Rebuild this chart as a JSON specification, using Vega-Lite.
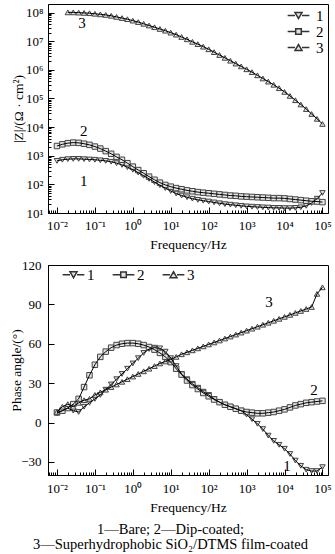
{
  "$schema": "https://vega.github.io/schema/vega-lite/v6.json",
  "background": "white",
  "padding": {"left": 9, "top": 3, "right": 5, "bottom": 0},
  "config": {
    "font": "Liberation Serif, Times New Roman, serif",
    "view": {"stroke": "black", "strokeWidth": 1},
    "style": {"guide-label": {"font": "Liberation Serif, Times New Roman, serif"}, "guide-title": {"font": "Liberation Serif, Times New Roman, serif", "fontWeight": "normal"}},
    "axis": {"grid": false, "domainColor": "black", "tickColor": "black", "labelColor": "black", "titleColor": "black", "labelFont": "Liberation Serif, Times New Roman, serif", "titleFont": "Liberation Serif, Times New Roman, serif", "labelFontSize": 13, "titleFontSize": 13.5, "titleFontWeight": "normal", "labelOverlap": false, "labelFlush": false, "tickWidth": 1},
    "legend": {"labelFont": "Liberation Serif, Times New Roman, serif", "labelFontSize": 15, "labelColor": "black"}
  },
  "datasets": {
    "eis": [
      {"s":"1","f":0.01,"z":661,"p":7},{"s":"1","f":0.013895,"z":724,"p":9},{"s":"1","f":0.019307,"z":759,"p":11},{"s":"1","f":0.026827,"z":776,"p":9},{"s":"1","f":0.037276,"z":776,"p":8},{"s":"1","f":0.051795,"z":759,"p":12},{"s":"1","f":0.07197,"z":741,"p":15},{"s":"1","f":0.1,"z":724,"p":18},{"s":"1","f":0.13895,"z":692,"p":21},{"s":"1","f":0.19307,"z":661,"p":25},{"s":"1","f":0.26827,"z":617,"p":29},{"s":"1","f":0.37276,"z":550,"p":33},{"s":"1","f":0.51795,"z":479,"p":37},{"s":"1","f":0.7197,"z":398,"p":41},{"s":"1","f":1,"z":324,"p":45},{"s":"1","f":1.3895,"z":257,"p":49},{"s":"1","f":1.9307,"z":200,"p":53},{"s":"1","f":2.6827,"z":155,"p":56},{"s":"1","f":3.7276,"z":120,"p":57},{"s":"1","f":5.1795,"z":93.3,"p":56.5},{"s":"1","f":7.197,"z":74.1,"p":54},{"s":"1","f":10,"z":58.9,"p":49},{"s":"1","f":13.895,"z":47.9,"p":43},{"s":"1","f":19.307,"z":40.7,"p":37},{"s":"1","f":26.827,"z":35.5,"p":33},{"s":"1","f":37.276,"z":31.6,"p":29.5},{"s":"1","f":51.795,"z":28.8,"p":26.5},{"s":"1","f":71.97,"z":26.9,"p":23.5},{"s":"1","f":100,"z":25.1,"p":21},{"s":"1","f":138.95,"z":23.4,"p":18},{"s":"1","f":193.07,"z":21.9,"p":15.5},{"s":"1","f":268.27,"z":20.4,"p":13.5},{"s":"1","f":372.76,"z":19.5,"p":12},{"s":"1","f":517.95,"z":18.6,"p":10.5},{"s":"1","f":719.7,"z":17.8,"p":9},{"s":"1","f":1000,"z":17.0,"p":6},{"s":"1","f":1389.5,"z":16.6,"p":2.5},{"s":"1","f":1930.7,"z":16.2,"p":-1},{"s":"1","f":2682.7,"z":15.8,"p":-5},{"s":"1","f":3727.6,"z":15.5,"p":-10},{"s":"1","f":5179.5,"z":15.1,"p":-14},{"s":"1","f":7197,"z":15.1,"p":-17},{"s":"1","f":10000,"z":14.8,"p":-20},{"s":"1","f":13895,"z":14.8,"p":-24},{"s":"1","f":19307,"z":15.1,"p":-29},{"s":"1","f":26827,"z":15.8,"p":-33},{"s":"1","f":37276,"z":17.8,"p":-36},{"s":"1","f":51795,"z":22.4,"p":-37},{"s":"1","f":71970,"z":31.6,"p":-37},{"s":"1","f":100000,"z":50.1,"p":-34},
      {"s":"2","f":0.01,"z":2190,"p":7.6},{"s":"2","f":0.013895,"z":2510,"p":9},{"s":"2","f":0.019307,"z":2750,"p":11},{"s":"2","f":0.026827,"z":2880,"p":14},{"s":"2","f":0.037276,"z":2820,"p":18},{"s":"2","f":0.051795,"z":2630,"p":27},{"s":"2","f":0.07197,"z":2400,"p":36},{"s":"2","f":0.1,"z":2090,"p":44},{"s":"2","f":0.13895,"z":1780,"p":50},{"s":"2","f":0.19307,"z":1450,"p":54},{"s":"2","f":0.26827,"z":1170,"p":57},{"s":"2","f":0.37276,"z":912,"p":59},{"s":"2","f":0.51795,"z":724,"p":60},{"s":"2","f":0.7197,"z":550,"p":60.5},{"s":"2","f":1,"z":417,"p":60.5},{"s":"2","f":1.3895,"z":316,"p":60},{"s":"2","f":1.9307,"z":245,"p":59},{"s":"2","f":2.6827,"z":186,"p":57.5},{"s":"2","f":3.7276,"z":145,"p":55.5},{"s":"2","f":5.1795,"z":115,"p":53},{"s":"2","f":7.197,"z":95.5,"p":50},{"s":"2","f":10,"z":83.2,"p":46},{"s":"2","f":13.895,"z":74.1,"p":41},{"s":"2","f":19.307,"z":67.6,"p":36.5},{"s":"2","f":26.827,"z":61.7,"p":32},{"s":"2","f":37.276,"z":57.5,"p":28.5},{"s":"2","f":51.795,"z":53.7,"p":25.5},{"s":"2","f":71.97,"z":51.3,"p":22.5},{"s":"2","f":100,"z":49.0,"p":20},{"s":"2","f":138.95,"z":46.8,"p":17.5},{"s":"2","f":193.07,"z":44.7,"p":15.5},{"s":"2","f":268.27,"z":42.7,"p":13.5},{"s":"2","f":372.76,"z":40.7,"p":12},{"s":"2","f":517.95,"z":39.8,"p":10.5},{"s":"2","f":719.7,"z":38.0,"p":9},{"s":"2","f":1000,"z":37.2,"p":8},{"s":"2","f":1389.5,"z":36.3,"p":7.5},{"s":"2","f":1930.7,"z":35.5,"p":7},{"s":"2","f":2682.7,"z":34.7,"p":7},{"s":"2","f":3727.6,"z":33.9,"p":7.5},{"s":"2","f":5179.5,"z":33.1,"p":8},{"s":"2","f":7197,"z":33.1,"p":9},{"s":"2","f":10000,"z":32.4,"p":10},{"s":"2","f":13895,"z":30.9,"p":11.5},{"s":"2","f":19307,"z":29.5,"p":13},{"s":"2","f":26827,"z":28.2,"p":14},{"s":"2","f":37276,"z":26.9,"p":15},{"s":"2","f":51795,"z":25.7,"p":15.5},{"s":"2","f":71970,"z":25.1,"p":16},{"s":"2","f":100000,"z":24.0,"p":16.5},
      {"s":"3","f":0.01,"z":null,"p":8},{"s":"3","f":0.013895,"z":null,"p":12},{"s":"3","f":0.019307,"z":1.02e8,"p":14},{"s":"3","f":0.026827,"z":1.02e8,"p":12},{"s":"3","f":0.037276,"z":1.0e8,"p":15},{"s":"3","f":0.051795,"z":9.77e7,"p":17},{"s":"3","f":0.07197,"z":9.55e7,"p":18},{"s":"3","f":0.1,"z":9.12e7,"p":21},{"s":"3","f":0.13895,"z":8.71e7,"p":23},{"s":"3","f":0.19307,"z":8.32e7,"p":25},{"s":"3","f":0.26827,"z":7.76e7,"p":27},{"s":"3","f":0.37276,"z":7.08e7,"p":29},{"s":"3","f":0.51795,"z":6.46e7,"p":31},{"s":"3","f":0.7197,"z":5.89e7,"p":33},{"s":"3","f":1,"z":5.25e7,"p":35},{"s":"3","f":1.3895,"z":4.68e7,"p":37},{"s":"3","f":1.9307,"z":4.07e7,"p":39},{"s":"3","f":2.6827,"z":3.55e7,"p":41},{"s":"3","f":3.7276,"z":3.09e7,"p":43},{"s":"3","f":5.1795,"z":2.69e7,"p":45},{"s":"3","f":7.197,"z":2.34e7,"p":46.5},{"s":"3","f":10,"z":2.0e7,"p":48},{"s":"3","f":13.895,"z":1.7e7,"p":50},{"s":"3","f":19.307,"z":1.41e7,"p":52},{"s":"3","f":26.827,"z":1.17e7,"p":53.5},{"s":"3","f":37.276,"z":9.55e6,"p":55},{"s":"3","f":51.795,"z":7.94e6,"p":56.5},{"s":"3","f":71.97,"z":6.46e6,"p":58},{"s":"3","f":100,"z":5.25e6,"p":59.5},{"s":"3","f":138.95,"z":4.17e6,"p":61},{"s":"3","f":193.07,"z":3.31e6,"p":62.5},{"s":"3","f":268.27,"z":2.63e6,"p":64},{"s":"3","f":372.76,"z":2.09e6,"p":65.5},{"s":"3","f":517.95,"z":1.66e6,"p":67},{"s":"3","f":719.7,"z":1.32e6,"p":68.5},{"s":"3","f":1000,"z":1.05e6,"p":70},{"s":"3","f":1389.5,"z":8.32e5,"p":71.5},{"s":"3","f":1930.7,"z":6.46e5,"p":73},{"s":"3","f":2682.7,"z":5.01e5,"p":74.5},{"s":"3","f":3727.6,"z":3.89e5,"p":76},{"s":"3","f":5179.5,"z":3.02e5,"p":77.5},{"s":"3","f":7197,"z":2.29e5,"p":79},{"s":"3","f":10000,"z":1.7e5,"p":80.5},{"s":"3","f":13895,"z":1.23e5,"p":82},{"s":"3","f":19307,"z":8.71e4,"p":83.5},{"s":"3","f":26827,"z":6.17e4,"p":85},{"s":"3","f":37276,"z":4.27e4,"p":86.5},{"s":"3","f":51795,"z":2.88e4,"p":88},{"s":"3","f":71970,"z":1.95e4,"p":98},{"s":"3","f":100000,"z":1.29e4,"p":103}
    ],
    "notes": [
      {"g":"t","f":0.046,"z":4.4e7,"p":null,"t":"3"},
      {"g":"t","f":0.051,"z":7400,"p":null,"t":"2"},
      {"g":"t","f":0.051,"z":130,"p":null,"t":"1"},
      {"g":"b","f":3900,"z":null,"p":91.6,"t":"3"},
      {"g":"b","f":60000,"z":null,"p":24.4,"t":"2"},
      {"g":"b","f":11700,"z":null,"p":-32.8,"t":"1"}
    ]
  },
  "title": {"text": ["1—Bare; 2—Dip-coated;", "3—Superhydrophobic SiO₂/DTMS film-coated"], "orient": "bottom", "anchor": "middle", "font": "Liberation Serif, Times New Roman, serif", "fontSize": 14.5, "fontWeight": "normal", "lineHeight": 15, "offset": 9, "color": "black"},
  "spacing": 7,
  "resolve": {"scale": {"shape": "independent", "x": "independent", "y": "independent"}, "legend": {"shape": "independent"}},
  "vconcat": [
    {
      "width": 280,
      "height": 209,
      "encoding": {
        "x": {"field": "f", "type": "quantitative", "scale": {"type": "log", "domain": [0.0058, 140000], "nice": false},
          "axis": {"title": "Frequency/Hz", "titlePadding": 2, "labelPadding": 12, "labelFont": "Liberation Serif, Times New Roman, serif", "titleFont": "Liberation Serif, Times New Roman, serif",
            "values": [0.006,0.007,0.008,0.009,0.01,0.02,0.03,0.04,0.05,0.06,0.07,0.08,0.09,0.1,0.2,0.3,0.4,0.5,0.6,0.7,0.8,0.9,1,2,3,4,5,6,7,8,9,10,20,30,40,50,60,70,80,90,100,200,300,400,500,600,700,800,900,1000,2000,3000,4000,5000,6000,7000,8000,9000,10000,20000,30000,40000,50000,60000,70000,80000,90000,100000],
            "labelExpr": "abs(log(datum.value)/LN10 - round(log(datum.value)/LN10)) < 0.001 ? '10' + ['⁻²','⁻¹','⁰','¹','²','³','⁴','⁵','⁶','⁷','⁸'][round(log(datum.value)/LN10)+2] : ''",
            "tickSize": {"condition": {"test": "abs(log(datum.value)/LN10 - round(log(datum.value)/LN10)) < 0.001", "value": -6}, "value": -3}}},
        "y": {"field": "z", "type": "quantitative", "scale": {"type": "log", "domain": [10, 200000000], "nice": false},
          "axis": {"title": "|Z|/(Ω · cm²)", "titlePadding": 0, "labelPadding": 11, "labelFont": "Liberation Serif, Times New Roman, serif", "titleFont": "Liberation Serif, Times New Roman, serif",
            "values": [10,20,30,40,50,60,70,80,90,100,200,300,400,500,600,700,800,900,1000,2000,3000,4000,5000,6000,7000,8000,9000,10000,20000,30000,40000,50000,60000,70000,80000,90000,100000,200000,300000,400000,500000,600000,700000,800000,900000,1000000,2000000,3000000,4000000,5000000,6000000,7000000,8000000,9000000,10000000,20000000,30000000,40000000,50000000,60000000,70000000,80000000,90000000,100000000],
            "labelExpr": "abs(log(datum.value)/LN10 - round(log(datum.value)/LN10)) < 0.001 ? '10' + ['⁻²','⁻¹','⁰','¹','²','³','⁴','⁵','⁶','⁷','⁸'][round(log(datum.value)/LN10)+2] : ''",
            "tickSize": {"condition": {"test": "abs(log(datum.value)/LN10 - round(log(datum.value)/LN10)) < 0.001", "value": -6}, "value": -3}}}
      },
      "resolve": {"scale": {"shape": "independent"}},
      "layer": [
        {
          "data": {"name": "eis"},
          "transform": [{"filter": "isValid(datum.z)"}],
          "mark": {"type": "point", "filled": true, "fill": "#e4e4e4", "stroke": "#444444", "strokeWidth": 1, "size": 30, "opacity": 1},
          "encoding": {
            "shape": {"field": "s", "type": "nominal", "scale": {"domain": ["1", "2", "3"], "range": ["triangle-down", "square", "triangle-up"]}, "legend": null}
          }
        },
        {
          "data": {"name": "eis"},
          "transform": [{"filter": "isValid(datum.z)"}],
          "mark": {"type": "line", "color": "black", "strokeWidth": 1},
          "encoding": {"detail": {"field": "s", "type": "nominal"}}
        },
        {
          "data": {"name": "eis"},
          "transform": [{"filter": "false"}],
          "mark": {"type": "point", "filled": false, "stroke": "#333333", "fill": "#e4e4e4", "strokeWidth": 1, "size": 49, "opacity": 1},
          "encoding": {
            "shape": {"field": "s", "type": "nominal",
              "scale": {"domain": ["1", "2", "3"], "range": ["M-3.1,0H-1M1,0H3.1M-1,-0.85H1L0,0.85Z", "M-3.1,0H-0.8M0.8,0H3.1M-0.8,-0.8H0.8V0.8H-0.8Z", "M-3.1,0H-1M1,0H3.1M-1,0.85H1L0,-0.85Z"]},
              "legend": {"title": null, "orient": "top-right", "offset": 4, "padding": 0, "symbolSize": 49, "labelOffset": 10, "rowPadding": 0, "labelExpr": "datum.label + ' '"}}
          }
        },
        {
          "data": {"name": "notes"},
          "transform": [{"filter": "datum.g === 't'"}],
          "mark": {"type": "text", "font": "Liberation Serif, Times New Roman, serif", "fontSize": 15, "fill": "black", "align": "center", "baseline": "middle"},
          "encoding": {"text": {"field": "t", "type": "nominal"}}
        }
      ]
    },
    {
      "width": 280,
      "height": 210,
      "encoding": {
        "x": {"field": "f", "type": "quantitative", "scale": {"type": "log", "domain": [0.0058, 140000], "nice": false},
          "axis": {"title": "Frequency/Hz", "titlePadding": 2, "labelPadding": 13, "labelFont": "Liberation Serif, Times New Roman, serif", "titleFont": "Liberation Serif, Times New Roman, serif",
            "values": [0.006,0.007,0.008,0.009,0.01,0.02,0.03,0.04,0.05,0.06,0.07,0.08,0.09,0.1,0.2,0.3,0.4,0.5,0.6,0.7,0.8,0.9,1,2,3,4,5,6,7,8,9,10,20,30,40,50,60,70,80,90,100,200,300,400,500,600,700,800,900,1000,2000,3000,4000,5000,6000,7000,8000,9000,10000,20000,30000,40000,50000,60000,70000,80000,90000,100000],
            "labelExpr": "abs(log(datum.value)/LN10 - round(log(datum.value)/LN10)) < 0.001 ? '10' + ['⁻²','⁻¹','⁰','¹','²','³','⁴','⁵','⁶','⁷','⁸'][round(log(datum.value)/LN10)+2] : ''",
            "tickSize": {"condition": {"test": "abs(log(datum.value)/LN10 - round(log(datum.value)/LN10)) < 0.001", "value": -6}, "value": -3}}},
        "y": {"field": "p", "type": "quantitative", "scale": {"domain": [-40, 120], "nice": false},
          "axis": {"title": "Phase angle/(°)", "titlePadding": -3, "labelPadding": 13, "tickSize": -6, "values": [-30, 0, 30, 60, 90, 120], "labelFont": "Liberation Serif, Times New Roman, serif", "titleFont": "Liberation Serif, Times New Roman, serif"}}
      },
      "resolve": {"scale": {"shape": "independent"}},
      "layer": [
        {
          "data": {"name": "eis"},
          "mark": {"type": "point", "filled": true, "fill": "#e4e4e4", "stroke": "#444444", "strokeWidth": 1, "size": 30, "opacity": 1},
          "encoding": {
            "shape": {"field": "s", "type": "nominal", "scale": {"domain": ["1", "2", "3"], "range": ["triangle-down", "square", "triangle-up"]}, "legend": null}
          }
        },
        {
          "data": {"name": "eis"},
          "mark": {"type": "line", "color": "black", "strokeWidth": 1},
          "encoding": {"detail": {"field": "s", "type": "nominal"}}
        },
        {
          "data": {"name": "eis"},
          "transform": [{"filter": "false"}],
          "mark": {"type": "point", "filled": false, "stroke": "#333333", "fill": "#e4e4e4", "strokeWidth": 1, "size": 49, "opacity": 1},
          "encoding": {
            "shape": {"field": "s", "type": "nominal",
              "scale": {"domain": ["1", "2", "3"], "range": ["M-3.1,0H-1M1,0H3.1M-1,-0.85H1L0,0.85Z", "M-3.1,0H-0.8M0.8,0H3.1M-0.8,-0.8H0.8V0.8H-0.8Z", "M-3.1,0H-1M1,0H3.1M-1,0.85H1L0,-0.85Z"]},
              "legend": {"title": null, "orient": "top-left", "direction": "horizontal", "offset": 2, "padding": 0, "symbolSize": 49, "labelOffset": 6, "columnPadding": 5, "symbolOffset": 16}}
          }
        },
        {
          "data": {"name": "notes"},
          "transform": [{"filter": "datum.g === 'b'"}],
          "mark": {"type": "text", "font": "Liberation Serif, Times New Roman, serif", "fontSize": 15, "fill": "black", "align": "center", "baseline": "middle"},
          "encoding": {"text": {"field": "t", "type": "nominal"}}
        }
      ]
    }
  ]
}
